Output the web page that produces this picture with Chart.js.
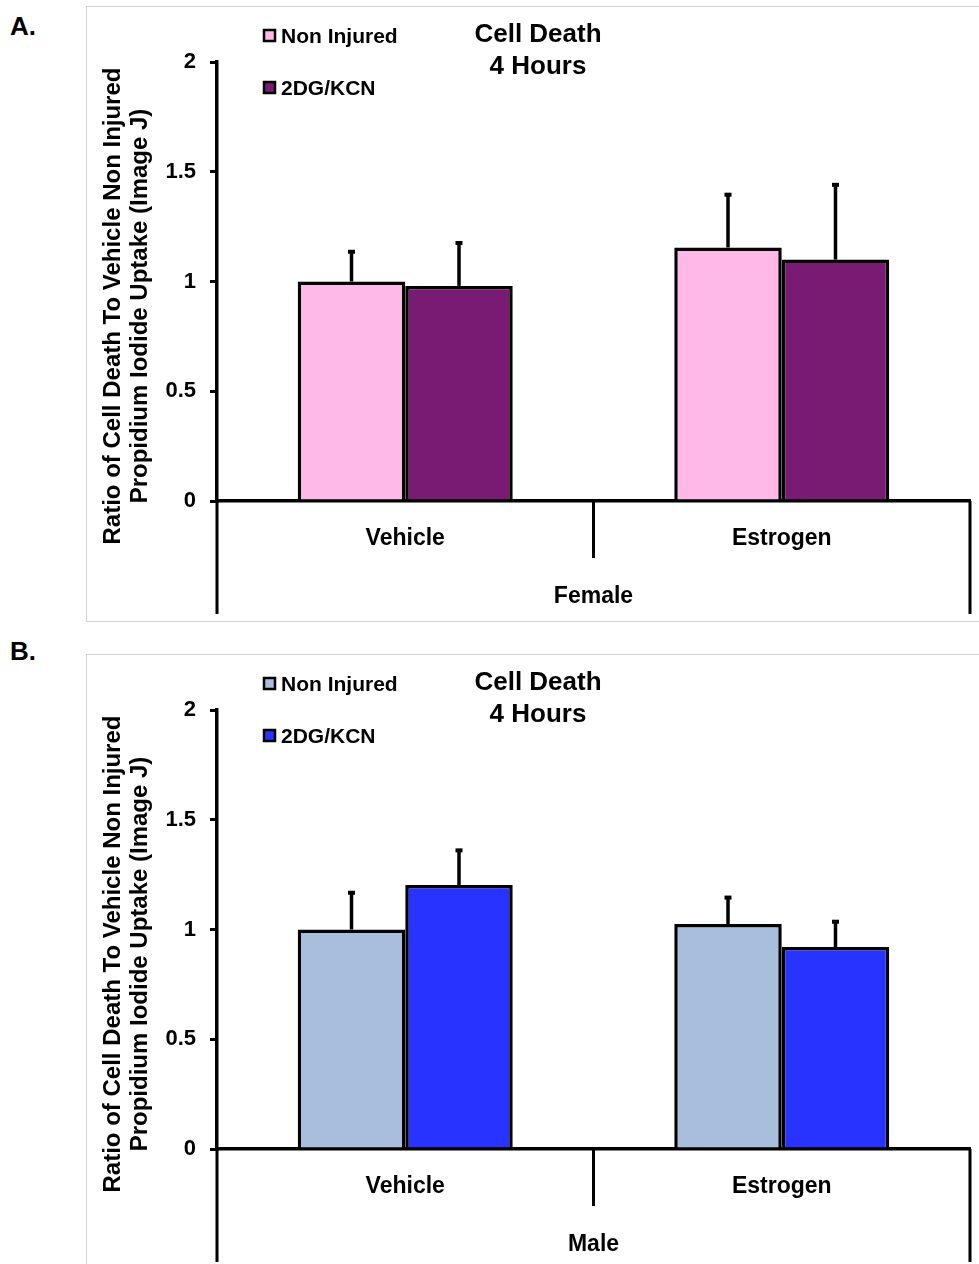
<!DOCTYPE html>
<html>
<head>
<meta charset="utf-8">
<script src="https://cdn.jsdelivr.net/npm/chart.js@4.4.1/dist/chart.umd.min.js"></script>
<style>
  html, body { margin: 0; padding: 0; background: #fff; overflow: hidden; }
  body { width: 979px; height: 1264px; position: relative; font-family: "Liberation Sans", Arial, sans-serif; }
  .frame { position: absolute; border: 1px solid #d2d2d2; box-sizing: border-box; }
  .panel-label { position: absolute; font-weight: bold; font-size: 26px; color: #000; }
  canvas { position: absolute; left: 0; }
</style>
</head>
<body>
<div class="frame" style="left:86px; top:6px; width:1000px; height:616px;"></div>
<div class="frame" style="left:86px; top:654px; width:1000px; height:700px;"></div>
<div class="panel-label" style="left:10px; top:11px;">A.</div>
<div class="panel-label" style="left:10px; top:636px;">B.</div>
<canvas id="chartA" width="979" height="648" style="top:0px;"></canvas>
<canvas id="chartB" width="979" height="648" style="top:648px;"></canvas>
<script>
// ---- data ----
const categories = ['Vehicle', 'Estrogen'];
const seriesNames = ['Non Injured', '2DG/KCN'];
const chartTitle = ['Cell Death', '4 Hours'];
const yTitle = ['Ratio of Cell Death To Vehicle Non Injured', 'Propidium Iodide Uptake (Image J)'];
const yTickValues = [0, 0.5, 1, 1.5, 2];
const yTickLabels = ['0', '0.5', '1', '1.5', '2'];

const femaleNonInjured = [1.0, 1.155];
const femaleNonInjuredErr = [0.14, 0.245];
const female2DG = [0.98, 1.10];
const female2DGErr = [0.20, 0.345];

const maleNonInjured = [1.0, 1.025];
const maleNonInjuredErr = [0.172, 0.125];
const male2DG = [1.203, 0.92];
const male2DGErr = [0.162, 0.12];

const FONT = '"Liberation Sans", Arial, sans-serif';

function makeChart(id, group, s1, e1, s2, e2, c1, c2) {
  const errs = [e1, e2];
  const overlay = {
    id: 'overlay',
    afterDatasetsDraw(chart) {
      const ctx = chart.ctx;
      const y = chart.scales.y, x = chart.scales.x;
      const ca = chart.chartArea;
      ctx.save();
      // error bars
      ctx.strokeStyle = '#000'; ctx.fillStyle = '#000'; ctx.lineWidth = 3.5;
      chart.data.datasets.forEach((ds, di) => {
        const meta = chart.getDatasetMeta(di);
        meta.data.forEach((bar, i) => {
          const top = y.getPixelForValue(ds.data[i] + errs[di][i]);
          ctx.beginPath();
          ctx.moveTo(bar.x, bar.y);
          ctx.lineTo(bar.x, top);
          ctx.stroke();
          ctx.fillRect(bar.x - 3.5, top - 1, 7, 4);
        });
      });
      // category grouping box
      const zero = y.getPixelForValue(0);
      const mid = (x.getPixelForTick(0) + x.getPixelForTick(1)) / 2;
      ctx.lineWidth = 3;
      ctx.beginPath();
      ctx.moveTo(ca.left, zero); ctx.lineTo(ca.left, zero + 113);
      ctx.moveTo(ca.right, zero); ctx.lineTo(ca.right, zero + 113);
      ctx.moveTo(mid, zero); ctx.lineTo(mid, zero + 57);
      ctx.stroke();
      ctx.textAlign = 'center'; ctx.textBaseline = 'middle';
      ctx.font = 'bold 23px ' + FONT;
      ctx.fillText(group, mid, zero + 96);
      // title
      ctx.font = 'bold 26px ' + FONT;
      ctx.fillText(chartTitle[0], 538, 35);
      ctx.fillText(chartTitle[1], 538, 67);
      // legend
      ctx.textAlign = 'left';
      ctx.font = 'bold 21px ' + FONT;
      chart.data.datasets.forEach((ds, di) => {
        const ly = 36 + di * 52;
        ctx.fillStyle = ds.backgroundColor;
        ctx.fillRect(264, ly - 6, 11, 11);
        ctx.lineWidth = 2.5;
        ctx.strokeStyle = '#000';
        ctx.strokeRect(264, ly - 6, 11, 11);
        ctx.fillStyle = '#000';
        ctx.fillText(ds.label, 281, ly + 1);
      });
      // y title
      ctx.font = 'bold 24px ' + FONT;
      ctx.textAlign = 'center';
      [113, 140].forEach((tx, k) => {
        ctx.save();
        ctx.translate(tx, 306);
        ctx.rotate(-Math.PI / 2);
        ctx.fillText(yTitle[k], 0, 0);
        ctx.restore();
      });
      ctx.restore();
    }
  };
  return new Chart(document.getElementById(id), {
    type: 'bar',
    data: {
      labels: categories,
      datasets: [
        { label: seriesNames[0], data: s1, backgroundColor: c1, borderColor: '#000', borderWidth: 3.5, borderSkipped: 'start', categoryPercentage: 0.571, barPercentage: 1.0 },
        { label: seriesNames[1], data: s2, backgroundColor: c2, borderColor: '#000', borderWidth: 3.5, borderSkipped: 'start', categoryPercentage: 0.571, barPercentage: 1.0 }
      ]
    },
    options: {
      responsive: false,
      animation: false,
      devicePixelRatio: 1,
      layout: { padding: { top: 62, right: 9, left: 0, bottom: 0 } },
      plugins: { legend: { display: false }, title: { display: false }, tooltip: { enabled: false } },
      scales: {
        y: {
          min: 0, max: 2,
          afterBuildTicks: (s) => { s.ticks = yTickValues.map(v => ({ value: v })); },
          afterFit: (s) => { s.width = 217; },
          ticks: {
            color: '#000', font: { family: FONT, size: 22, weight: 'bold' }, padding: 14,
            callback: (v) => yTickLabels[yTickValues.indexOf(v)]
          },
          grid: { drawOnChartArea: false, tickLength: 7, color: '#000', lineWidth: 3 },
          border: { display: true, color: '#000', width: 3.5 }
        },
        x: {
          afterFit: (s) => { s.height = 147; },
          ticks: { color: '#000', font: { family: FONT, size: 23, weight: 'bold' }, padding: 24, maxRotation: 0 },
          grid: { display: false, drawTicks: false },
          border: { display: true, color: '#000', width: 3.5 }
        }
      }
    },
    plugins: [overlay]
  });
}

makeChart('chartA', 'Female', femaleNonInjured, femaleNonInjuredErr, female2DG, female2DGErr, '#FEB9E9', '#791A73');
makeChart('chartB', 'Male', maleNonInjured, maleNonInjuredErr, male2DG, male2DGErr, '#A8BEDC', '#2833FF');
</script>
</body>
</html>
